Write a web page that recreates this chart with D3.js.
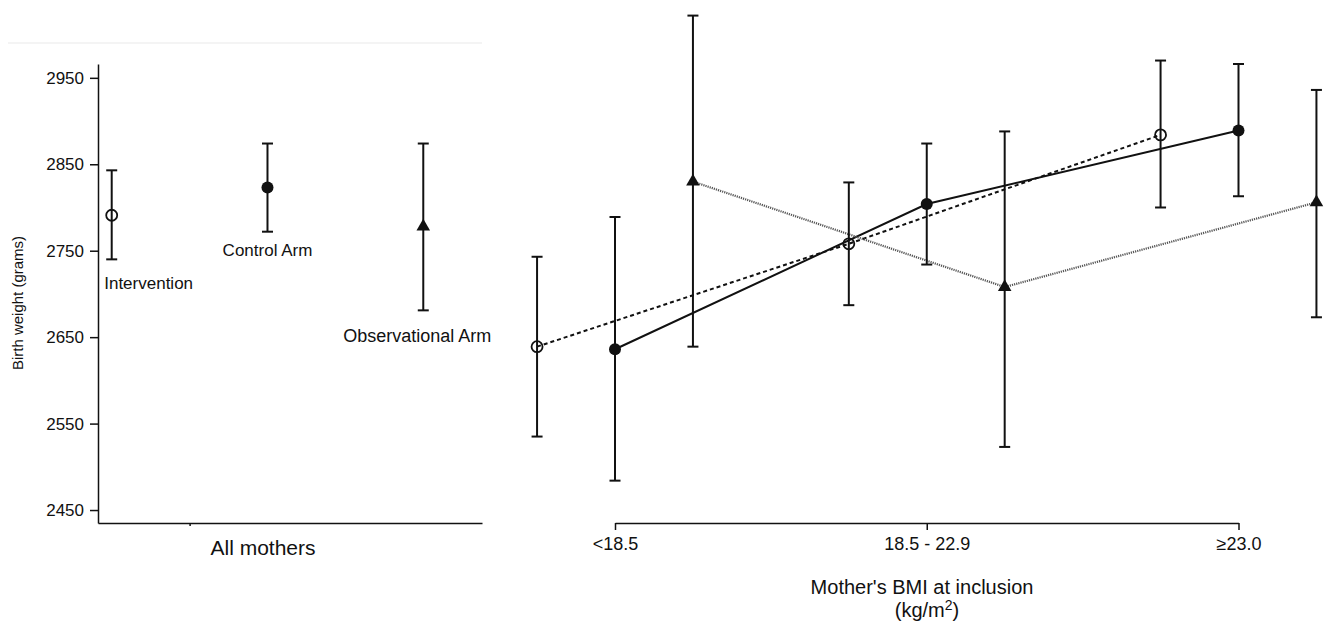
<!DOCTYPE html>
<meta charset='utf-8'>
<style>
    body { margin: 0; background: #fff; }
    text { font-family: 'Liberation Sans', Arial, sans-serif; fill: #111; }
    .axis path, .axis line { stroke: #111; stroke-width: 1.5; }
    .axis text { font-family: 'Liberation Sans', Arial, sans-serif; fill: #111; }
    .bar { stroke: #111; stroke-width: 2; fill: none; }
</style>

<svg width="1325" height="623"></svg>
<script src="https://d3js.org/d3.v7.min.js"></script>

<script>

// y ticks (grams)
var yTicks = [2450, 2550, 2650, 2750, 2850, 2950];

// left panel: all mothers
var armNames = ['Intervention', 'Control Arm', 'Observational Arm'];
var allMean = [2791, 2823, 2778];
var allLow  = [2740, 2772, 2681];
var allHigh = [2843, 2874, 2874];

// right panel: by BMI category
var bmiCats = ['<18.5', '18.5 - 22.9', '\u226523.0'];
var intMean = [2639, 2758, 2884];
var intLow  = [2535, 2687, 2800];
var intHigh = [2743, 2829, 2970];
var ctlMean = [2636, 2804, 2889];
var ctlLow  = [2484, 2734, 2813];
var ctlHigh = [2789, 2874, 2966];
var obsMean = [2830, 2708, 2806];
var obsLow  = [2639, 2523, 2673];
var obsHigh = [3022, 2888, 2936];

var svg = d3.select('svg');

var y = d3.scaleLinear().domain([2435, 2966]).range([523, 64]);
var xL = d3.scaleLinear().domain([-0.088, 2.377]).range([98, 482]);
var xR = d3.scaleLinear().domain([0, 2]).range([615, 1238.5]);

// faint rule at top
svg.append('line')
    .attr('x1', 8).attr('x2', 482).attr('y1', 43).attr('y2', 43)
    .attr('stroke', '#f0f0f0').attr('stroke-width', 1.5);

// left y axis
var yAxis = svg.append('g')
    .attr('class', 'axis')
    .attr('transform', 'translate(98,0)')
    .call(d3.axisLeft(y).tickValues(yTicks).tickSize(8).tickSizeOuter(0)
        .tickPadding(6).tickFormat(d3.format('d')));
yAxis.selectAll('text').style('font-size', '17px');

svg.append('text')
    .attr('transform', 'translate(23,303) rotate(-90)')
    .attr('text-anchor', 'middle')
    .style('font-size', '15px')
    .text('Birth weight (grams)');

// left x axis
svg.append('g')
    .attr('class', 'axis')
    .attr('transform', 'translate(0,523)')
    .call(d3.axisBottom(xL).tickValues([0.5]).tickSize(3).tickSizeOuter(0).tickFormat(''));

svg.append('text')
    .attr('x', 263).attr('y', 555)
    .attr('text-anchor', 'middle')
    .style('font-size', '21px')
    .text('All mothers');

// right x axis
var xAxis = svg.append('g')
    .attr('class', 'axis')
    .attr('transform', 'translate(0,523)')
    .call(d3.axisBottom(xR).tickValues([0, 1, 2]).tickSize(7).tickSizeOuter(0)
        .tickPadding(7).tickFormat(function(d) { return bmiCats[d]; }));
xAxis.selectAll('text').style('font-size', '18px');

svg.append('text')
    .attr('x', 922).attr('y', 594)
    .attr('text-anchor', 'middle')
    .style('font-size', '20px')
    .text("Mother's BMI at inclusion");

var unit = svg.append('text')
    .attr('x', 927).attr('y', 617)
    .attr('text-anchor', 'middle')
    .style('font-size', '20px');
unit.append('tspan').text('(kg/m');
unit.append('tspan').attr('dy', -7).style('font-size', '14px').text('2');
unit.append('tspan').attr('dy', 7).text(')');

var arms = [
    {mean: intMean, low: intLow, high: intHigh, off: -0.25, marker: 'open',
     stroke: '#111', dash: '4,3', width: 2},
    {mean: ctlMean, low: ctlLow, high: ctlHigh, off: 0, marker: 'filled',
     stroke: '#111', dash: null, width: 2},
    {mean: obsMean, low: obsLow, high: obsHigh, off: 0.25, marker: 'triangle',
     stroke: '#555', dash: '1.2,1', width: 2.2}
];

function drawMarker(g, kind, cx, cy) {
    if (kind === 'open') {
        g.append('circle').attr('cx', cx).attr('cy', cy).attr('r', 5.5)
            .attr('fill', 'none').attr('stroke', '#111').attr('stroke-width', 1.8);
    } else if (kind === 'filled') {
        g.append('circle').attr('cx', cx).attr('cy', cy).attr('r', 6).attr('fill', '#111');
    } else {
        g.append('path').attr('d', d3.symbol(d3.symbolTriangle, 80)())
            .attr('transform', 'translate(' + cx + ',' + cy + ')').attr('fill', '#111');
    }
}

function drawBar(g, cx, lo, hi) {
    g.append('line').attr('class', 'bar')
        .attr('x1', cx).attr('x2', cx).attr('y1', y(lo)).attr('y2', y(hi));
    [lo, hi].forEach(function(v) {
        g.append('line').attr('class', 'bar')
            .attr('x1', cx - 5.5).attr('x2', cx + 5.5).attr('y1', y(v)).attr('y2', y(v));
    });
}

// right panel lines
arms.forEach(function(a) {
    var line = d3.line()
        .x(function(d, i) { return xR(i + a.off); })
        .y(function(d) { return y(d); });
    svg.append('path')
        .datum(a.mean)
        .attr('d', line)
        .attr('fill', 'none')
        .attr('stroke', a.stroke)
        .attr('stroke-width', a.width)
        .attr('stroke-dasharray', a.dash);
});

// right panel bars + markers
var gR = svg.append('g');
arms.forEach(function(a) {
    a.mean.forEach(function(m, i) {
        var cx = xR(i + a.off);
        drawBar(gR, cx, a.low[i], a.high[i]);
        drawMarker(gR, a.marker, cx, y(m));
    });
});

// left panel bars + markers + labels
var gL = svg.append('g');
var labelPos = [
    {dx: -7.5, dy: 30, anchor: 'start', size: 17},
    {dx: 0, dy: 24.5, anchor: 'middle', size: 17},
    {dx: -80, dy: 32, anchor: 'start', size: 18}
];
allMean.forEach(function(m, i) {
    var cx = xL(i);
    drawBar(gL, cx, allLow[i], allHigh[i]);
    drawMarker(gL, arms[i].marker, cx, y(m));
    gL.append('text')
        .attr('x', cx + labelPos[i].dx)
        .attr('y', y(allLow[i]) + labelPos[i].dy)
        .attr('text-anchor', labelPos[i].anchor)
        .style('font-size', labelPos[i].size + 'px')
        .text(armNames[i]);
});

</script>
